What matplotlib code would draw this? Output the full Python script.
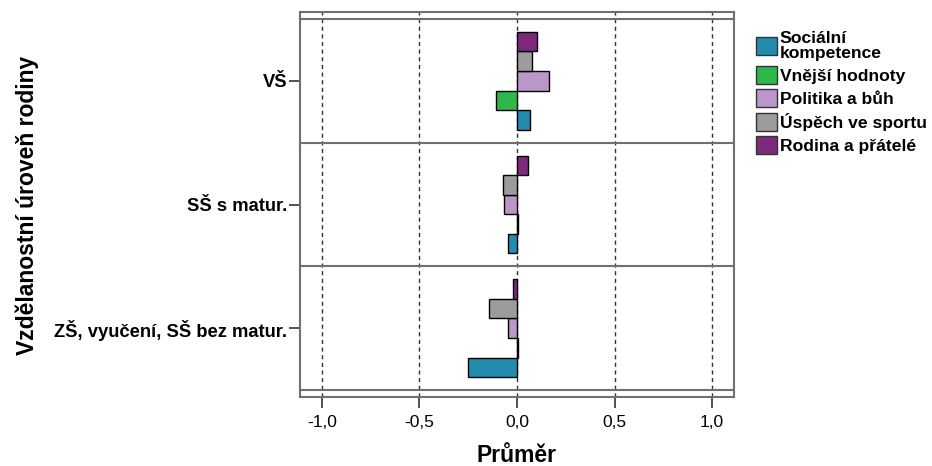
import matplotlib.pyplot as plt
import numpy as np
from matplotlib.patches import Patch

plt.rcParams['font.family'] = ['Liberation Sans', 'DejaVu Sans']

# categories bottom -> top
categories = ['ZŠ, vyučení, SŠ bez matur.', 'SŠ s matur.', 'VŠ']
series = ['Sociální\nkompetence', 'Vnější hodnoty', 'Politika a bůh', 'Úspěch ve sportu', 'Rodina a přátelé']
colors = ['#238bad', '#2db84a', '#b998c9', '#9c9c9c', '#7e287e']

socialni = [-0.25, -0.045, 0.069]
vnejsi = [0.004, 0.004, -0.11]
politika = [-0.044, -0.068, 0.163]
uspech = [-0.141, -0.071, 0.078]
rodina = [-0.02, 0.056, 0.104]
values = [socialni, vnejsi, politika, uspech, rodina]

xticks = [-1.0, -0.5, 0.0, 0.5, 1.0]
xticklabels = ['-1,0', '-0,5', '0,0', '0,5', '1,0']

fig = plt.figure(figsize=(9.32, 4.66), dpi=100)
ax = fig.add_axes([300/932, 1 - 397/466, 434/932, 385/466])

h = 0.158
y = np.arange(len(categories))
for k, (vals, c) in enumerate(zip(values, colors)):
    ax.barh(y + (k - 2) * h, vals, height=h, color=c, edgecolor='black', linewidth=1, zorder=3)

ax.set_xlim(-1.112, 1.112)
ax.set_ylim(-0.556, 2.556)

for xv in xticks:
    ax.axvline(xv, color='#333333', linestyle=(0, (3, 2.5)), linewidth=1, zorder=1)
for yv in [-0.5, 0.5, 1.5, 2.5]:
    ax.axhline(yv, color='#707070', linewidth=1.5, zorder=2)

for s in ax.spines.values():
    s.set_color('#707070')
    s.set_linewidth(1.5)

ax.set_xticks(xticks)
ax.set_xticklabels(xticklabels, fontsize=12.5)
ax.set_yticks(y)
ax.set_yticklabels(categories, fontsize=13.2, fontweight='bold')
ax.tick_params(axis='x', length=8, width=1.2, color='#333333', pad=5)
ax.tick_params(axis='y', length=8, width=1.2, color='#333333', pad=1)

ax.set_xlabel('Průměr', fontsize=16.5, fontweight='bold')
ax.xaxis.set_label_coords(0.5, -(455 - 397) / 385, transform=ax.transAxes)
ax.xaxis.label.set_va('center')
ax.set_ylabel('Vzdělanostní úroveň rodiny', fontsize=16.5, fontweight='bold')
ax.yaxis.set_label_coords(-(300 - 27) / 434, (397 - 205) / 385, transform=ax.transAxes)
ax.yaxis.label.set_va('center')

handles = [Patch(facecolor=c, edgecolor='#333333', label=s) for s, c in zip(series, colors)]
leg = fig.legend(handles=handles, loc='upper left', bbox_to_anchor=(749/932, 1 - 24/466),
                 frameon=False, prop={'weight': 'bold', 'size': 12.6},
                 handlelength=1.2, handleheight=1.2, handletextpad=0.15, labelspacing=0.3,
                 borderaxespad=0)
for t in leg.get_texts():
    t.set_linespacing(1.0)

fig.savefig('out.png', dpi=100)
